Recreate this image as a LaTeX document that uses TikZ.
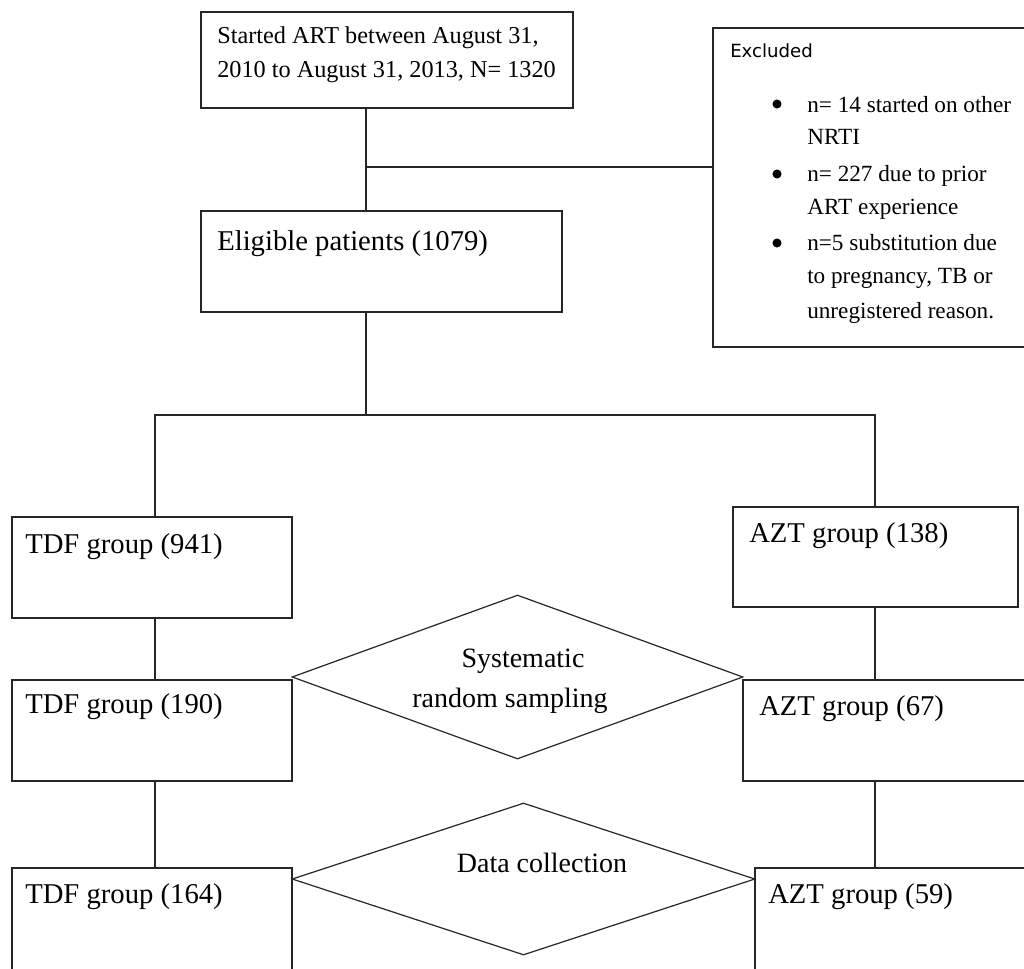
\documentclass[tikz,border=0pt]{standalone}
\usepackage{fontspec}
\setmainfont{Liberation Serif}
\newfontfamily\exclfont{DejaVu Sans}
\usetikzlibrary{shapes.geometric,fit,calc}
\begin{document}
\begin{tikzpicture}[x=0.75pt,y=-0.75pt,
  box/.style={draw=black!85, line width=1.1pt, rectangle, inner sep=0pt},
  dia/.style={draw=black!85, line width=0.9pt, diamond, inner sep=0pt},
  conn/.style={draw=black!85, line width=1.1pt},
  txt/.style={anchor=base west, inner sep=0pt},
  big/.style={txt, font=\fontsize{21.5}{24}\selectfont},
  mid/.style={txt, font=\fontsize{18.2}{22}\selectfont},
  exc/.style={txt, font=\fontsize{17.4}{22}\selectfont},
  dtxt/.style={anchor=base, inner sep=0pt, font=\fontsize{21}{24}\selectfont}]
\clip (0,0) rectangle (1024,968);
% boxes
\node[box, fit={(201,12) (573,108)}] (top) {};
\node[box, fit={(201,211) (562,312)}] (elig) {};
\node[box, fit={(713,28) (1040,347)}] (excl) {};
\node[box, fit={(12,517) (292,618)}] (tdf1) {};
\node[box, fit={(12,680) (292,781)}] (tdf2) {};
\node[box, fit={(12,868) (292,1010)}] (tdf3) {};
\node[box, fit={(733,507) (1018,607)}] (azt1) {};
\node[box, fit={(743,680) (1040,781)}] (azt2) {};
\node[box, fit={(755,868) (1040,1010)}] (azt3) {};
% diamonds
\node[dia, minimum width=338.25pt, minimum height=123pt] (samp) at (517.5,677) {};
\node[dia, minimum width=347.25pt, minimum height=114pt] (coll) at (523.5,879) {};
% texts
\node[mid] (topa) at (217,43) {Started ART between August 31,};
\node[mid] (topb) at (217,77) {2010 to August 31, 2013, N= 1320};
\node[big] (eligt) at (217,250) {Eligible patients (1079)};
\node[txt, font=\exclfont\fontsize{13.6}{16}\selectfont] (exclt) at (730,57) {Excluded};
\node[exc] (e1a) at (807,112) {n= 14 started on other};
\node[exc] (e1b) at (807,144) {NRTI};
\node[exc] (e2a) at (807,181) {n= 227 due to prior};
\node[exc] (e2b) at (807,214) {ART experience};
\node[exc] (e3a) at (807,250) {n=5 substitution due};
\node[exc] (e3b) at (807,283) {to pregnancy, TB or};
\node[exc] (e3c) at (807,318) {unregistered reason.};
\fill[black] (777,104) circle[radius=3.4pt];
\fill[black] (777,174) circle[radius=3.4pt];
\fill[black] (777,243) circle[radius=3.4pt];
\node[big] (tdf1t) at (25,553) {TDF group (941)};
\node[big] (tdf2t) at (25,713) {TDF group (190)};
\node[big] (tdf3t) at (25,903) {TDF group (164)};
\node[big] (azt1t) at (749,542) {AZT group (138)};
\node[big] (azt2t) at (759,715) {AZT group (67)};
\node[big] (azt3t) at (768,903) {AZT group (59)};
\node[dtxt] (sampa) at (523,667) {Systematic};
\node[dtxt] (sampb) at (510,707) {random sampling};
\node[dtxt] (collt) at (542,872) {Data collection};
% connectors
\coordinate (jx) at (366,167);
\coordinate (jb) at (366,415);
\coordinate (cl) at (155,0);
\coordinate (cr) at (875,0);
\draw[conn] (top.south -| jx) -- (elig.north -| jx);
\draw[conn] (jx) -- (excl.west |- jx);
\draw[conn] (elig.south -| jb) -- (jb);
\draw[conn] (tdf1.north -| cl) |- (jb) -| (azt1.north -| cr);
\draw[conn] (tdf1.south -| cl) -- (tdf2.north -| cl);
\draw[conn] (tdf2.south -| cl) -- (tdf3.north -| cl);
\draw[conn] (azt1.south -| cr) -- (azt2.north -| cr);
\draw[conn] (azt2.south -| cr) -- (azt3.north -| cr);
\end{tikzpicture}
\end{document}
